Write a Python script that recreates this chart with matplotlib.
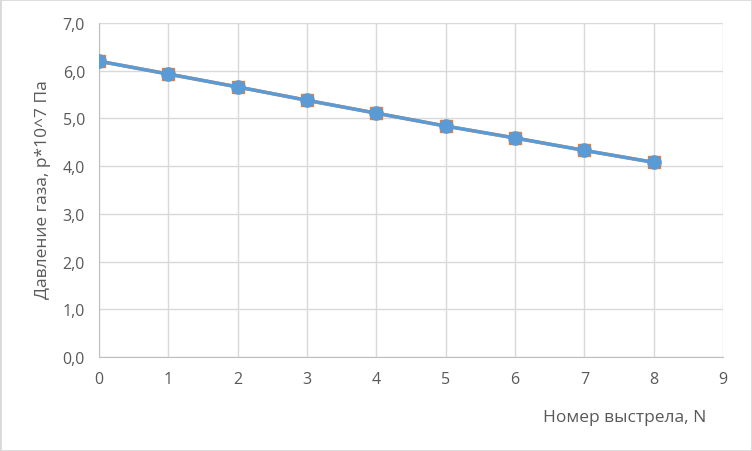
import matplotlib.pyplot as plt
from matplotlib.ticker import FuncFormatter

# shot number and gas pressure (p*10^7 Pa), two overlapping series
shots = [0, 1, 2, 3, 4, 5, 6, 7, 8]
pressure_a = [6.20, 5.93, 5.66, 5.38, 5.11, 4.84, 4.59, 4.33, 4.08]
pressure_b = [6.20, 5.93, 5.66, 5.38, 5.11, 4.84, 4.59, 4.33, 4.08]

plt.rcParams['font.family'] = ['Open Sans', 'DejaVu Sans']

fig = plt.figure(figsize=(7.52, 4.52), dpi=100)
ax = fig.add_axes([99 / 752, 1 - 358 / 452, (723 - 99) / 752, (358 - 24) / 452])

ax.plot(shots, pressure_b, color='#ED7D31', marker='s', markersize=8, linewidth=2.5, zorder=3)
ax.plot(shots, pressure_a, color='#5B9BD5', marker='o', markersize=9.5, linewidth=2.5, zorder=4)

ax.set_xlim(0, 9)
ax.set_ylim(0, 7)
ax.set_xticks(range(0, 10))
ax.set_yticks([i for i in range(0, 8)])
ax.yaxis.set_major_formatter(FuncFormatter(lambda v, p: "{:.1f}".format(v).replace(".", ",")))

ax.grid(True, color='#D9D9D9', linewidth=1)
ax.set_axisbelow(True)
for side in ['top', 'right']:
    ax.spines[side].set_visible(False)
ax.spines['left'].set_color('#BFBFBF')
ax.spines['bottom'].set_color('#BFBFBF')
ax.tick_params(length=0, labelsize=11.5, colors='#595959', pad=10)

fig.text(625 / 752, 1 - 418 / 452, "Номер выстрела, N", fontsize=12.5, color='#595959',
         ha='center', va='center')
fig.text(43 / 752, 1 - 190 / 452, "Давление газа, p*10^7 Па", fontsize=12.5, color='#595959',
         ha='center', va='center', rotation=90)

# outer frame
fig.patches.append(plt.Rectangle((0, 0), 1, 1, transform=fig.transFigure, fill=False,
                                 edgecolor='#D9D9D9', linewidth=2))

fig.savefig("out.png", dpi=100)
